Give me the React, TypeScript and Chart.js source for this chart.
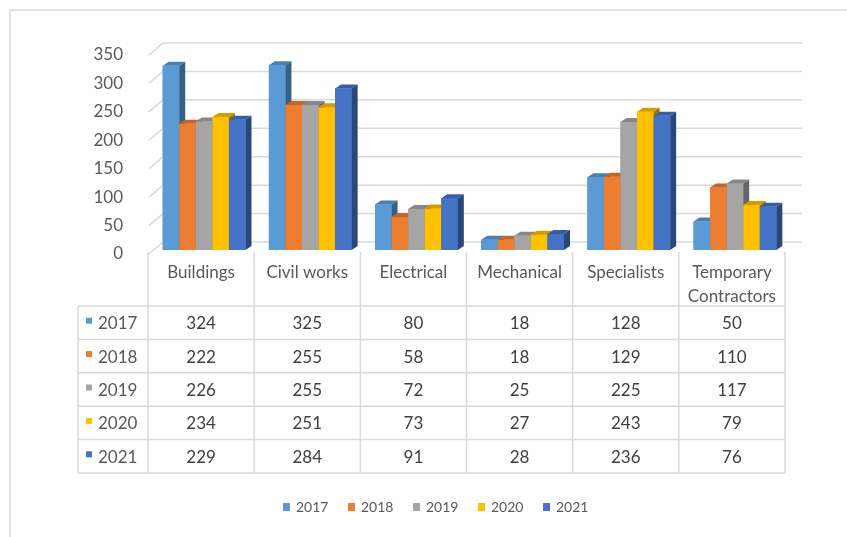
import React, { useEffect, useRef } from 'react';
import { Chart, registerables } from 'chart.js';
Chart.register(...registerables);

// ---- data ----
const categories: (string | string[])[] = ['Buildings', 'Civil works', 'Electrical', 'Mechanical', 'Specialists', ['Temporary', 'Contractors']];
const years = ['2017', '2018', '2019', '2020', '2021'];
const v2017 = [324, 325, 80, 18, 128, 50];
const v2018 = [222, 255, 58, 18, 129, 110];
const v2019 = [226, 255, 72, 25, 225, 117];
const v2020 = [234, 251, 73, 27, 243, 79];
const v2021 = [229, 284, 91, 28, 236, 76];
const seriesValues = [v2017, v2018, v2019, v2020, v2021];
const colors = ['#5B9BD5', '#ED7D31', '#A5A5A5', '#FFC000', '#4472C4'];
const yTicks = [0, 50, 100, 150, 200, 250, 300, 350];

const FONT = 'Lato, "Open Sans", sans-serif';
const GRID = '#d9d9d9';
const TXT = '#595959';

function shade(hex: string, f: number) {
  const n = parseInt(hex.slice(1), 16);
  const r = Math.round(((n >> 16) & 255) * f);
  const g = Math.round(((n >> 8) & 255) * f);
  const b = Math.round((n & 255) * f);
  return `rgb(${r},${g},${b})`;
}

const DX = 6, DY = 4;      // bar 3D depth
const WX = 12, WY = 8;     // wall offset
const SHIFT = -3;          // table offset relative to bars

const excel3d = {
  id: 'excel3d',
  beforeDraw(chart: any) {
    const { ctx, chartArea } = chart;
    const y = chart.scales.y;
    ctx.save();
    ctx.strokeStyle = GRID;
    ctx.lineWidth = 1.5;
    // frame
    ctx.beginPath();
    ctx.moveTo(10, 540);
    ctx.lineTo(10, 10);
    ctx.lineTo(850, 10);
    ctx.stroke();
    // back wall gridlines + side diagonal
    for (const v of yTicks) {
      const py = y.getPixelForValue(v);
      ctx.beginPath();
      ctx.moveTo(chartArea.left + SHIFT + 1, py + 4);
      ctx.lineTo(chartArea.left + WX, py - WY);
      ctx.lineTo(chartArea.right + 14, py - WY);
      ctx.stroke();
    }
    ctx.restore();
  },
  afterDatasetsDraw(chart: any) {
    const { ctx } = chart;
    const xs = chart.scales.x;
    ctx.save();
    // bars in painter's order
    for (let i = 0; i < categories.length; i++) {
      for (let d = 0; d < seriesValues.length; d++) {
        const el = chart.getDatasetMeta(d).data[i];
        const p = el.getProps(['x', 'y', 'base', 'width'], true);
        const l = p.x - p.width / 2, r = p.x + p.width / 2;
        const top = p.y, base = p.base;
        const c = colors[d];
        ctx.fillStyle = c;
        ctx.fillRect(l, top, r - l, base - top);
        ctx.fillStyle = shade(c, 0.82);
        ctx.beginPath();
        ctx.moveTo(l, top); ctx.lineTo(l + DX, top - DY); ctx.lineTo(r + DX, top - DY); ctx.lineTo(r, top);
        ctx.closePath(); ctx.fill();
        ctx.fillStyle = shade(c, 0.62);
        ctx.beginPath();
        ctx.moveTo(r, top); ctx.lineTo(r + DX, top - DY); ctx.lineTo(r + DX, base - DY); ctx.lineTo(r, base);
        ctx.closePath(); ctx.fill();
      }
    }

    // data table
    const n = categories.length;
    const cw = xs.width / n;
    const bounds: number[] = [];
    for (let i = 0; i <= n; i++) bounds.push(xs.left + i * cw + SHIFT);
    const tLeft = 78, hTop = 252, hBottom = 306, rowH = 33.4;
    const tBottom = hBottom + rowH * years.length;
    ctx.strokeStyle = GRID;
    ctx.lineWidth = 1.5;
    ctx.beginPath();
    for (const bx of bounds) { ctx.moveTo(bx, hTop); ctx.lineTo(bx, tBottom); }
    ctx.moveTo(tLeft, hBottom); ctx.lineTo(tLeft, tBottom);
    for (let r = 0; r <= years.length; r++) {
      const yy = hBottom + r * rowH;
      ctx.moveTo(tLeft, yy); ctx.lineTo(bounds[n], yy);
    }
    ctx.stroke();

    ctx.font = `17px ${FONT}`;
    ctx.textBaseline = 'middle';
    ctx.textAlign = 'center';
    ctx.fillStyle = TXT;
    categories.forEach((c, i) => {
      const cx = (bounds[i] + bounds[i + 1]) / 2;
      const lines = Array.isArray(c) ? c : [c];
      lines.forEach((t, k) => ctx.fillText(t, cx, 273 + k * 24));
    });
    years.forEach((yr, r) => {
      const cy = hBottom + rowH * (r + 0.5) + 1;
      ctx.fillStyle = colors[r];
      ctx.fillRect(86, cy - 6, 6, 6);
      ctx.fillStyle = TXT;
      ctx.textAlign = 'left';
      ctx.fillText(yr, 98, cy);
      ctx.textAlign = 'center';
      ctx.fillStyle = '#404040';
      seriesValues[r].forEach((v, i) => {
        ctx.fillText(String(v), (bounds[i] + bounds[i + 1]) / 2, cy);
      });
    });

    // legend
    ctx.font = `14px ${FONT}`;
    ctx.textAlign = 'left';
    years.forEach((yr, k) => {
      const sx = 283 + k * 65;
      ctx.fillStyle = colors[k];
      ctx.fillRect(sx, 503, 7, 8);
      ctx.fillStyle = TXT;
      ctx.fillText(yr, sx + 13, 507);
    });
    ctx.restore();
  },
};

export default function App() {
  const ref = useRef<HTMLCanvasElement>(null);
  useEffect(() => {
    const chart = new Chart(ref.current!, {
      type: 'bar',
      data: {
        labels: categories as any,
        datasets: years.map((yr, d) => ({
          label: yr,
          data: seriesValues[d],
          backgroundColor: colors[d],
          borderWidth: 0,
          categoryPercentage: 0.78,
          barPercentage: 1.0,
        })),
      },
      options: {
        responsive: false,
        animation: false,
        devicePixelRatio: 1,
        layout: { padding: { left: 0, top: 51, right: 59, bottom: 287 } },
        plugins: { legend: { display: false }, tooltip: { enabled: false }, title: { display: false } },
        scales: {
          x: { display: false },
          y: {
            min: 0,
            max: 350,
            afterFit: (s: any) => { s.width = 151; },
            afterBuildTicks: (s: any) => { s.ticks = yTicks.map((v) => ({ value: v })); },
            grid: { display: false },
            border: { display: false },
            ticks: { padding: 20, labelOffset: 4, color: TXT, font: { family: FONT, size: 17 } },
          },
        },
      },
      plugins: [excel3d],
    });
    return () => chart.destroy();
  }, []);
  return (
    <div style={{ position: 'fixed', left: 0, top: 0, width: 847, height: 537, background: '#fff' }}>
      <canvas ref={ref} width={847} height={537} style={{ display: 'block', width: 847, height: 537 }} />
    </div>
  );
}
